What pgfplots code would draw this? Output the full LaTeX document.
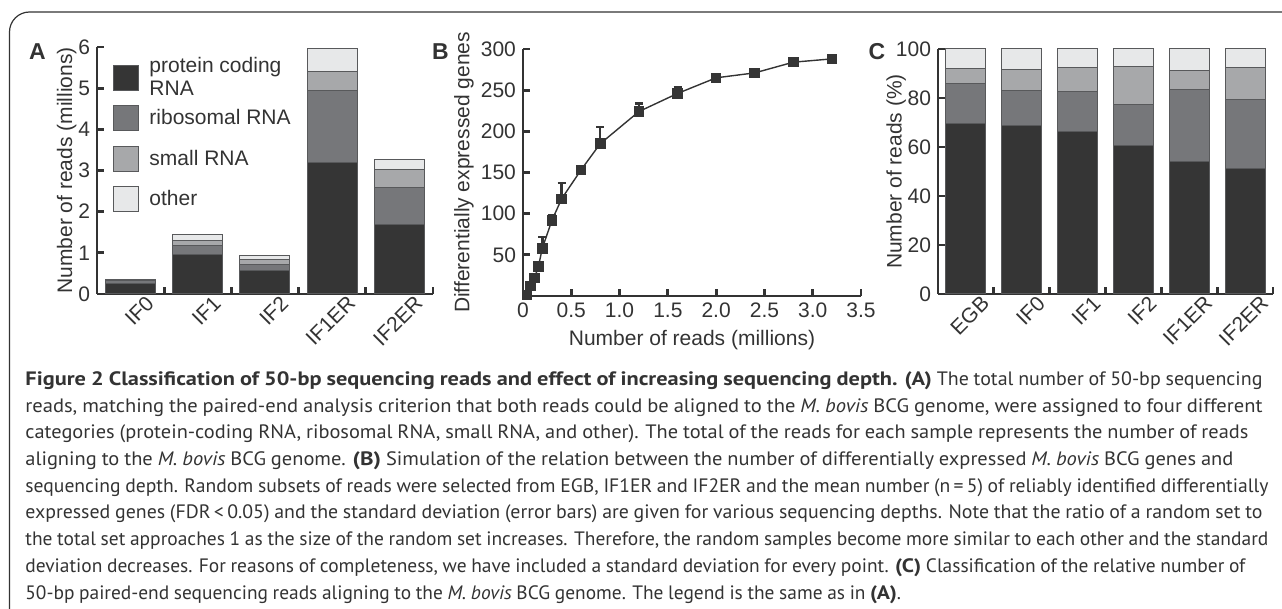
\documentclass[border=0pt]{standalone}
\usepackage{fontspec}
\setmainfont{Liberation Sans}
\newfontfamily\capfont[WordSpace=0.9, BoldFeatures={FakeStretch=1.12}]{PT Sans}
\usepackage{pgfplots}
\pgfplotsset{compat=1.18}

\definecolor{txt}{HTML}{333333}
\definecolor{cProt}{HTML}{353535}
\definecolor{cRib}{HTML}{76777A}
\definecolor{cSmall}{HTML}{A7A8AA}
\definecolor{cOther}{HTML}{E7E8E9}
\definecolor{edge}{HTML}{58595B}

\newcommand{\chartfont}{\fontsize{10.5}{12.5}\selectfont}
\newcommand{\capsize}{\capfont\fontsize{9.7}{12}\selectfont}
% caption line stretched to the width it has in the figure
\newcommand{\capline}[2]{\resizebox{#1}{\height}{#2}}

\pgfplotsset{
  panel/.style={
    scale only axis, clip=false,
    axis x line*=bottom, axis y line*=left,
    x axis line style={-}, y axis line style={-},
    axis line style={line width=1.4pt, draw=txt},
    tick align=inside,
    major tick length=3.5pt, minor tick length=3.5pt,
    tick style={line width=1.4pt, draw=txt},
    enlargelimits=false,
    tick label style={font=\chartfont, text=txt},
    label style={font=\chartfont, text=txt},
    /pgf/number format/assume math mode=true,
  },
  barpanel/.style={
    panel, ybar stacked, xmin=-0.5,
    major x tick style={draw=none},
    xticklabel style={rotate=45, anchor=north east, inner sep=1pt, xshift=6pt, yshift=-4pt},
  },
  prot/.style={fill=cProt, draw=edge, line width=0.5pt},
  rib/.style={fill=cRib, draw=edge, line width=0.5pt},
  small/.style={fill=cSmall, draw=edge, line width=0.5pt},
  other/.style={fill=cOther, draw=edge, line width=0.5pt},
}

\begin{document}
\begin{tikzpicture}
\useasboundingbox (0pt,0pt) rectangle (641pt,-304.5pt);
\draw[line width=0.6pt, txt, rounded corners=10pt] (4.75pt,-304.5pt) -- (4.75pt,-6pt) -- (641pt,-6pt);

% A: reads per class (millions)
\begin{axis}[barpanel,
  at={(48.5pt,-147pt)}, anchor=south west,
  width=168pt, height=123.5pt,
  xmax=4.5, ymin=0, ymax=6,
  bar width=25pt,
  xtick={0,...,4}, xticklabels={IF0,IF1,IF2,IF1ER,IF2ER},
  minor xtick={0.5,1.5,2.5,3.5,4.5},
  ytick={0,...,6},
  ylabel={Number of reads (millions)},
  ylabel style={at={(axis description cs:-0.09,0.5)}, anchor=center},
  legend image code/.code={\path[draw=none, fill=none] (0pt,-9.55pt) rectangle (12.5pt,9.55pt);
    \draw[#1] (0pt,-6.25pt) rectangle (12.5pt,6.25pt);},
  legend style={at={(axis description cs:0.03,0.97)}, anchor=north west,
    draw=none, fill=none, font=\chartfont, text=txt,
    cells={anchor=west}, nodes={inner sep=0pt},
    row sep=1.15pt, /tikz/every odd column/.style={column sep=5pt}},
]
\addplot[prot] coordinates {(0,0.26) (1,0.96) (2,0.58) (3,3.20) (4,1.69)};
\addlegendentry{\smash{\raisebox{-9.75pt}{\begin{tabular}[b]{@{}l@{}}protein coding\\[-1pt]RNA\end{tabular}}}}
\addplot[rib] coordinates {(0,0.06) (1,0.22) (2,0.14) (3,1.75) (4,0.90)};
\addlegendentry{ribosomal RNA}
\addplot[small] coordinates {(0,0.02) (1,0.13) (2,0.13) (3,0.46) (4,0.44)};
\addlegendentry{small RNA}
\addplot[other] coordinates {(0,0.02) (1,0.14) (2,0.09) (3,0.55) (4,0.24)};
\addlegendentry{other}
\end{axis}

% B: differentially expressed genes vs depth
\begin{axis}[panel,
  at={(261.5pt,-148pt)}, anchor=south west,
  width=169pt, height=123.5pt,
  xmin=0, xmax=3.5, ymin=0, ymax=300,
  xtick={0,0.5,...,3.5}, xticklabels={0,0.5,1.0,1.5,2.0,2.5,3.0,3.5},
  ytick={50,100,...,300},
  xlabel={Number of reads (millions)},
  xlabel style={at={(axis description cs:0.5,-0.178)}, anchor=center},
  ylabel={Differentially expressed genes},
  ylabel style={at={(axis description cs:-0.175,0.5)}, anchor=center},
]
\addplot[txt, line width=0.7pt, mark=square*, mark size=2.3pt,
  mark options={fill=cProt, draw=cProt},
  error bars/.cd, y dir=plus, y explicit,
  error bar style={line width=1.2pt, cProt},
  error mark options={rotate=90, mark size=2pt, line width=1.2pt, cProt}]
  coordinates {
  (0.04,1) +- (0,1)
  (0.08,12) +- (0,2)
  (0.12,22) +- (0,2)
  (0.16,36) +- (0,2)
  (0.20,58) +- (0,14)
  (0.30,92) +- (0,6)
  (0.40,118) +- (0,19)
  (0.60,153) +- (0,3)
  (0.80,185) +- (0,20)
  (1.20,224) +- (0,10)
  (1.60,246) +- (0,8)
  (2.00,265) +- (0,3)
  (2.40,271) +- (0,3)
  (2.80,284) +- (0,3)
  (3.20,288) +- (0,2)
  };
\end{axis}

% C: relative reads per class (%)
\begin{axis}[barpanel,
  at={(469pt,-147pt)}, anchor=south west,
  width=167.5pt, height=122.5pt,
  xmax=5.5, ymin=0, ymax=100,
  bar width=20pt,
  xtick={0,...,5}, xticklabels={EGB,IF0,IF1,IF2,IF1ER,IF2ER},
  minor xtick={0.5,1.5,2.5,3.5,4.5,5.5},
  ytick={0,20,...,100},
  ylabel={Number of reads (\%)},
  ylabel style={at={(axis description cs:-0.125,0.5)}, anchor=center},
]
\addplot[prot] coordinates {(0,69.5) (1,68.7) (2,66.5) (3,60.5) (4,53.9) (5,51.4)};
\addplot[rib] coordinates {(0,16.4) (1,14.5) (2,16.0) (3,16.7) (4,29.5) (5,27.8)};
\addplot[small] coordinates {(0,6.0) (1,8.3) (2,9.8) (3,15.6) (4,7.8) (5,13.4)};
\addplot[other] coordinates {(0,8.1) (1,8.5) (2,7.7) (3,7.2) (4,8.8) (5,7.4)};
\end{axis}

\node[anchor=base, font=\fontsize{11.5}{12}\selectfont\bfseries, text=txt, inner sep=0pt] at (18.75pt,-30pt) {A};
\node[anchor=base, font=\fontsize{11.5}{12}\selectfont\bfseries, text=txt, inner sep=0pt] at (220.25pt,-30pt) {B};
\node[anchor=base, font=\fontsize{11.5}{12}\selectfont\bfseries, text=txt, inner sep=0pt] at (438.5pt,-30pt) {C};

\begin{scope}[every node/.style={anchor=base west, font=\capsize, text=txt, inner sep=0pt}]
\node at (12.5pt,-192.75pt) {\capline{618.5pt}{\textbf{Figure 2 Classification of 50-bp sequencing reads and effect of increasing sequencing depth. (A)} The total number of 50-bp sequencing}};
\node at (12.5pt,-206.1pt) {\capline{618.5pt}{reads, matching the paired-end analysis criterion that both reads could be aligned to the \textit{M. bovis} BCG genome, were assigned to four different}};
\node at (12.5pt,-219.45pt) {\capline{611.5pt}{categories (protein-coding RNA, ribosomal RNA, small RNA, and other). The total of the reads for each sample represents the number of reads}};
\node at (12.5pt,-232.8pt) {\capline{604pt}{aligning to the \textit{M. bovis} BCG genome. \textbf{(B)} Simulation of the relation between the number of differentially expressed \textit{M. bovis} BCG genes and}};
\node at (12.5pt,-246.15pt) {\capline{621.5pt}{sequencing depth. Random subsets of reads were selected from EGB, IF1ER and IF2ER and the mean number (n\,=\,5) of reliably identified differentially}};
\node at (12.5pt,-259.5pt) {\capline{618.5pt}{expressed genes (FDR\,<\,0.05) and the standard deviation (error bars) are given for various sequencing depths. Note that the ratio of a random set to}};
\node at (12.5pt,-272.85pt) {\capline{621.5pt}{the total set approaches 1 as the size of the random set increases. Therefore, the random samples become more similar to each other and the standard}};
\node at (12.5pt,-286.2pt) {\capline{610pt}{deviation decreases. For reasons of completeness, we have included a standard deviation for every point. \textbf{(C)} Classification of the relative number of}};
\node at (12.5pt,-299.55pt) {50-bp paired-end sequencing reads aligning to the \textit{M. bovis} BCG genome. The legend is the same as in \textbf{(A)}.};
\end{scope}
\end{tikzpicture}
\end{document}
